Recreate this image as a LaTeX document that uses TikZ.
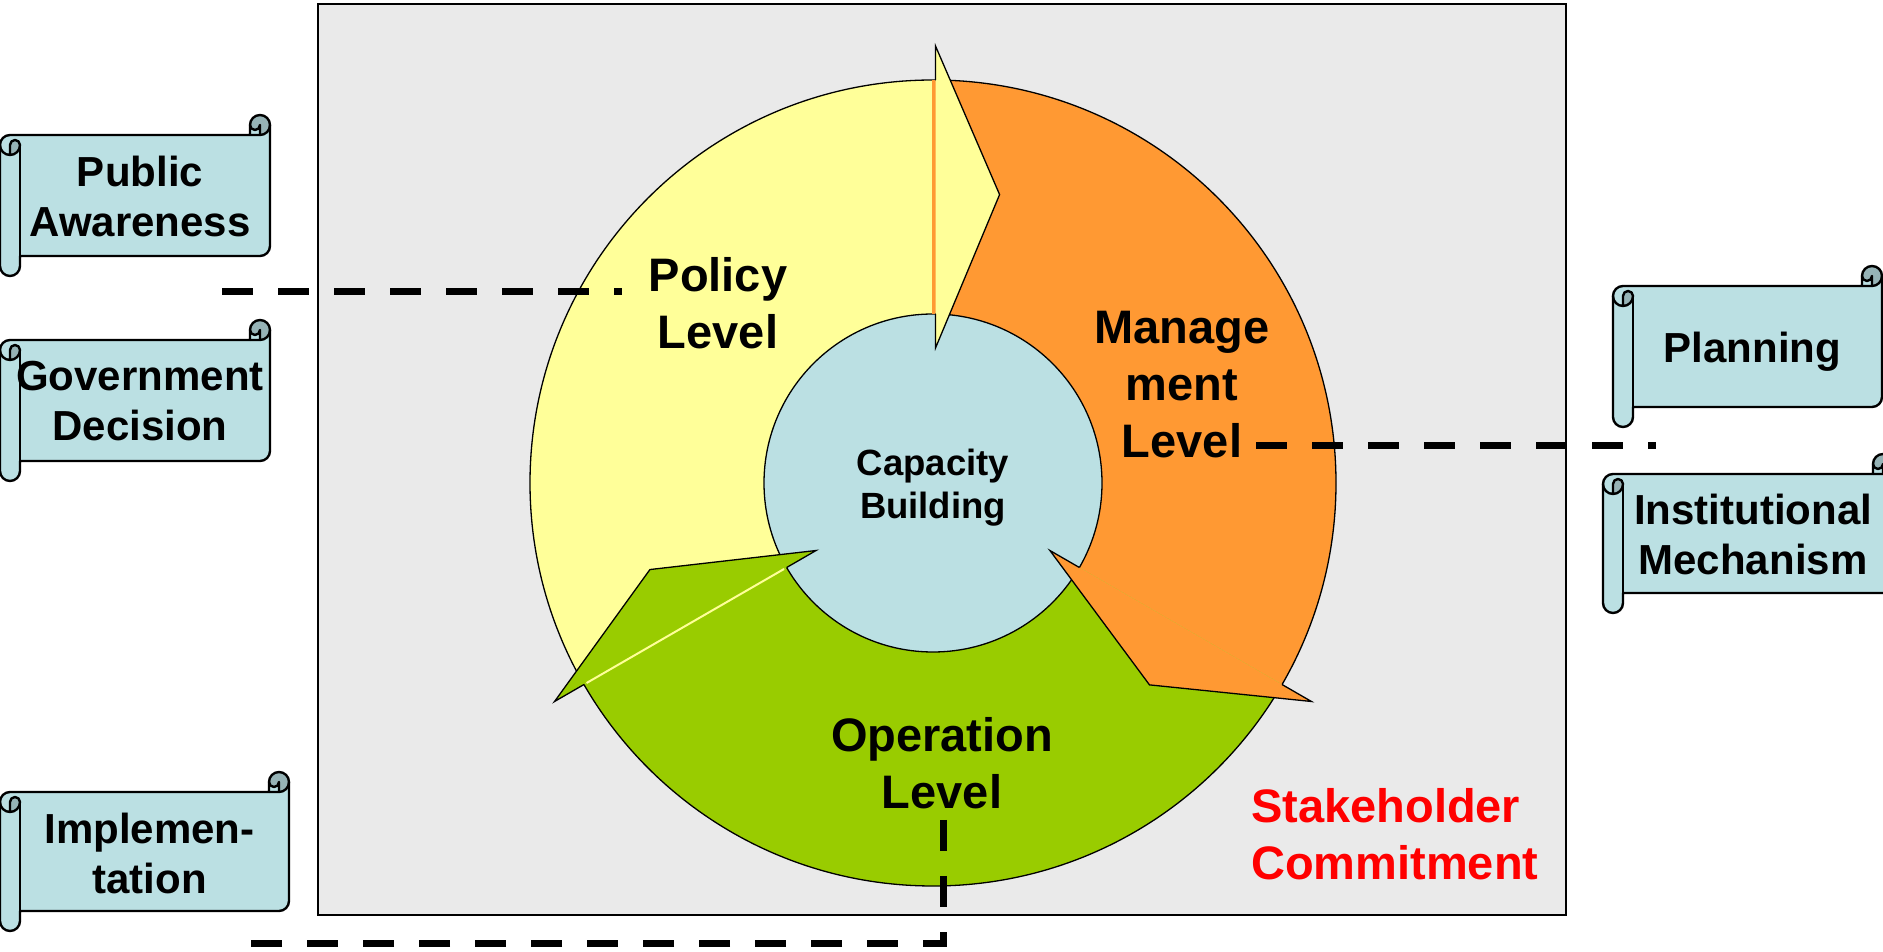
\documentclass[tikz,border=0pt]{standalone}
\usepackage{fontspec}
\setmainfont{Liberation Sans}
\usetikzlibrary{calc}
\definecolor{bggray}{HTML}{EAEAEA}
\definecolor{yel}{HTML}{FFFF99}
\definecolor{org}{HTML}{FF9933}
\definecolor{grn}{HTML}{99CC00}
\definecolor{lblue}{HTML}{BBE0E3}
\definecolor{curlc}{HTML}{96B3B6}
\definecolor{redtxt}{HTML}{FF0000}
\tikzset{
  outl/.style={draw=black, line width=1.3pt, line join=miter},
  scrollline/.style={draw=black, line width=2.4pt, line join=round},
  lvl/.style={font=\bfseries\fontsize{47}{57}\selectfont, align=center, inner sep=0pt},
  captext/.style={font=\bfseries\fontsize{36.5}{43}\selectfont, align=center, inner sep=0pt},
  stktext/.style={font=\bfseries\fontsize{47}{57}\selectfont, align=left, inner sep=0pt, text=redtxt},
  scrtext/.style={font=\bfseries\fontsize{42}{50}\selectfont, align=center, inner sep=0pt},
  dashln/.style={line width=7pt, dash pattern=on 31pt off 25pt, line cap=butt, line join=miter}
}
% #1 name, #2 left, #3 top, #4 right, #5 bottom, #6 text, #7 text y offset
\newcommand{\scrollbox}[7]{%
\begin{scope}[shift={(#2,#3)}]
\pgfmathsetmacro{\sw}{#4-#2}
\pgfmathsetmacro{\sh}{#5-#3}
\pgfmathsetmacro{\sxa}{\sw-20}
\pgfmathsetmacro{\sxb}{\sw-10}
\pgfmathsetmacro{\sya}{\sh-30}
\pgfmathsetmacro{\syb}{\sh-20}
\pgfmathsetmacro{\syc}{\sh-10}
\pgfmathsetmacro{\stx}{(20+\sxb)/2}
\pgfmathsetmacro{\sty}{(20+\syb)/2+#7}
\fill[lblue] (0,30) arc[start angle=180,delta angle=90,radius=10] -- (\sxa,20) -- (\sxa,10)
  arc[start angle=180,delta angle=180,radius=10] -- (\sw,\sya)
  arc[start angle=0,delta angle=90,radius=10] -- (20,\syb) -- (20,\syc)
  arc[start angle=0,delta angle=180,radius=10] -- cycle;
\fill[curlc] (10,40) arc[start angle=90,delta angle=-90,radius=10]
  arc[start angle=0,delta angle=-180,radius=5] -- cycle;
\fill[curlc] (\sxb,20) arc[start angle=90,delta angle=-270,radius=10]
  arc[start angle=180,delta angle=-180,radius=5] -- cycle;
\draw[scrollline] (0,30) arc[start angle=180,delta angle=90,radius=10] -- (\sxa,20) -- (\sxa,10)
  arc[start angle=180,delta angle=180,radius=10] -- (\sw,\sya)
  arc[start angle=0,delta angle=90,radius=10] -- (20,\syb) -- (20,\syc)
  arc[start angle=0,delta angle=180,radius=10] -- cycle;
\draw[scrollline] (\sxa,20) -- (\sxb,20) arc[start angle=90,delta angle=-90,radius=10];
\draw[scrollline] (\sxb,20) -- (\sxb,10) arc[start angle=0,delta angle=180,radius=5];
\draw[scrollline] (10,40) -- (10,30) arc[start angle=180,delta angle=180,radius=5]
  arc[start angle=0,delta angle=180,radius=10];
\draw[scrollline] (20,30) -- (20,\syb);
\node[scrtext] (#1) at (\stx,\sty) {#6};
\end{scope}}

\begin{document}
\begin{tikzpicture}[x=1pt,y=1pt]
\begin{scope}[shift={(0,951)},yscale=-1]
\useasboundingbox (0,0) rectangle (1883,951);
\fill[white] (0,0) rectangle (1883,951);

% frame
\draw[line width=2.5pt, fill=bggray] (318,4) rectangle (1566,915);

\coordinate (C) at (933,483);

% ring bodies (image angles, clockwise)
\fill[org] ($(C)+(270:403)$) arc[start angle=270,end angle=390,radius=403]
  -- ($(C)+(30:169)$) arc[start angle=390,end angle=270,radius=169] -- cycle;
\fill[grn] ($(C)+(30:403)$) arc[start angle=30,end angle=150,radius=403]
  -- ($(C)+(150:169)$) arc[start angle=150,end angle=30,radius=169] -- cycle;
\fill[yel] ($(C)+(150:403)$) arc[start angle=150,end angle=270,radius=403]
  -- ($(C)+(270:169)$) arc[start angle=270,end angle=150,radius=169] -- cycle;

% outer outline and inner circle
\draw[outl] (C) circle[radius=403];
\draw[outl, fill=lblue] (C) circle[radius=169];

% seam at the top
\draw[org, line width=2.5pt] ($(C)+(0.5,-169)$) -- ($(C)+(0.5,-403)$);

% arrowheads
\fill[yel] ($(C)+(2.5,-437)$) -- ($(C)+(283:296)$) -- ($(C)+(2.5,-135)$) -- cycle;
\draw[outl] ($(C)+(2.5,-403)$) -- ($(C)+(2.5,-437)$) -- ($(C)+(283:296)$) -- ($(C)+(2.5,-135)$) -- ($(C)+(2.5,-169)$);

\fill[org] ($(C)+(30:437)$) -- ($(C)+(43:296)$) -- ($(C)+(30:135)$) -- cycle;
\draw[outl] ($(C)+(30:403)$) -- ($(C)+(30:437)$) -- ($(C)+(43:296)$) -- ($(C)+(30:135)$) -- ($(C)+(30:169)$);

\fill[grn] ($(C)+(150:437)$) -- ($(C)+(163:296)$) -- ($(C)+(150:135)$) -- cycle;
\draw[outl] ($(C)+(150:403)$) -- ($(C)+(150:437)$) -- ($(C)+(163:296)$) -- ($(C)+(150:135)$) -- ($(C)+(150:169)$);
\draw[yel, line width=2pt] ($(C)+(150:172)$) -- ($(C)+(150:400)$);

% labels
\node[lvl] (policy) at (718,303) {Policy\\Level};
\node[lvl] (manage) at (1182,385) {Manage\\ment\\Level};
\node[lvl] (oper) at (942,763) {Operation\\Level};
\node[captext] (capb) at (933,487.5) {Capacity\\Building};
\node[stktext, anchor=west] (stake) at (1251,834.5) {Stakeholder\\Commitment};

% dashed leaders
\coordinate (d1a) at (222,291.5);
\coordinate (d1b) at (622,291.5);
\coordinate (d2a) at (1256,445.7);
\coordinate (d2b) at (1656,445.7);
\coordinate (d3a) at (943,820);
\coordinate (d3b) at (943,943);
\coordinate (d3c) at (250,943);
\draw[dashln] (d1a) -- (d1b);
\draw[dashln] (d2a) -- (d2b);
\draw[dashln] (d3a) -- (d3b) -- (d3c);

% scrolls
\scrollbox{pub}{0}{115}{270}{276}{Public\\Awareness}{1}
\scrollbox{gov}{0}{320}{270}{481}{Government\\Decision}{1}
\scrollbox{impl}{0}{772}{289}{931}{Implemen-\\tation}{2}
\scrollbox{plan}{1613}{266}{1882}{427}{Planning}{5}
\scrollbox{inst}{1603}{454}{1893}{613}{Institutional\\Mechanism}{1}
\end{scope}
\end{tikzpicture}
\end{document}
